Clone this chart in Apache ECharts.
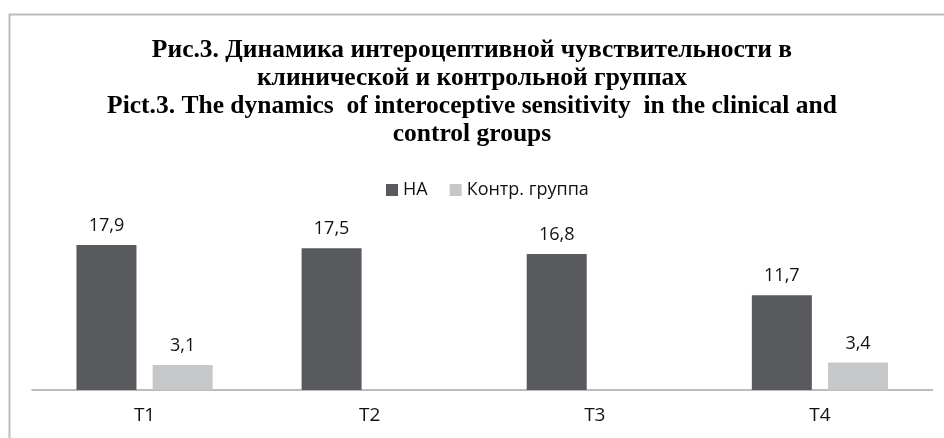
<!DOCTYPE html>
<html><head><meta charset="utf-8">
<script src="https://cdn.jsdelivr.net/npm/echarts@6/dist/echarts.min.js"></script>
<style>html,body{margin:0;padding:0;background:#fff}#c{width:944px;height:438px}</style>
</head><body><div id="c"></div>
<script>
const titleLines = [
  "Рис.3. Динамика интероцептивной чувствительности в",
  "клинической и контрольной группах",
  "Pict.3. The dynamics  of interoceptive sensitivity  in the clinical and",
  "control groups"
];
const categories = ["T1", "T2", "T3", "T4"];
const seriesNames = ["НА", "Контр. группа"];
const valuesNA = [17.9, 17.5, 16.8, 11.7];
const valuesControl = [3.1, null, null, 3.4];

const chart = echarts.init(document.getElementById('c'), null, {renderer: 'canvas'});
const labelFmt = p => (p.value == null ? '' : String(p.value).replace('.', ','));
chart.setOption({
  animation: false,
  backgroundColor: '#fff',
  graphic: [{
    type: 'rect', shape: {x: 9.5, y: 14.5, width: 960, height: 460},
    style: {fill: 'none', stroke: '#bdbdbd', lineWidth: 2}, silent: true
  }],
  title: {
    text: titleLines.join('\n'),
    left: 'center', top: 31,
    textStyle: {fontFamily: 'Liberation Serif', fontWeight: 'bold', fontSize: 25.5, lineHeight: 28, color: '#000'}
  },
  legend: {
    top: 176, left: 381,
    itemWidth: 12, itemHeight: 12, itemGap: 22,
    icon: 'rect',
    textStyle: {fontFamily: 'Open Sans', fontSize: 18, color: '#111'}
  },
  grid: {left: 32, right: 11.5, top: 228, bottom: 48},
  xAxis: {
    type: 'category', data: categories,
    axisLine: {lineStyle: {color: '#a6a6a8', width: 1.5}},
    axisTick: {show: false},
    axisLabel: {fontFamily: 'Open Sans', fontSize: 19, color: '#111', margin: 16}
  },
  yAxis: {type: 'value', min: 0, max: 20, show: false, splitLine: {show: false}},
  series: [
    {name: seriesNames[0], type: 'bar', data: valuesNA, barWidth: 60, barGap: '27%',
     itemStyle: {color: '#595a5e'},
     label: {show: true, position: 'top', distance: 10, formatter: labelFmt, fontFamily: 'Open Sans', fontSize: 18, color: '#111'}},
    {name: seriesNames[1], type: 'bar', data: valuesControl, barWidth: 60,
     itemStyle: {color: '#c6c7c9'},
     label: {show: true, position: 'top', distance: 10, formatter: labelFmt, fontFamily: 'Open Sans', fontSize: 18, color: '#111'}}
  ]
});
</script></body></html>
